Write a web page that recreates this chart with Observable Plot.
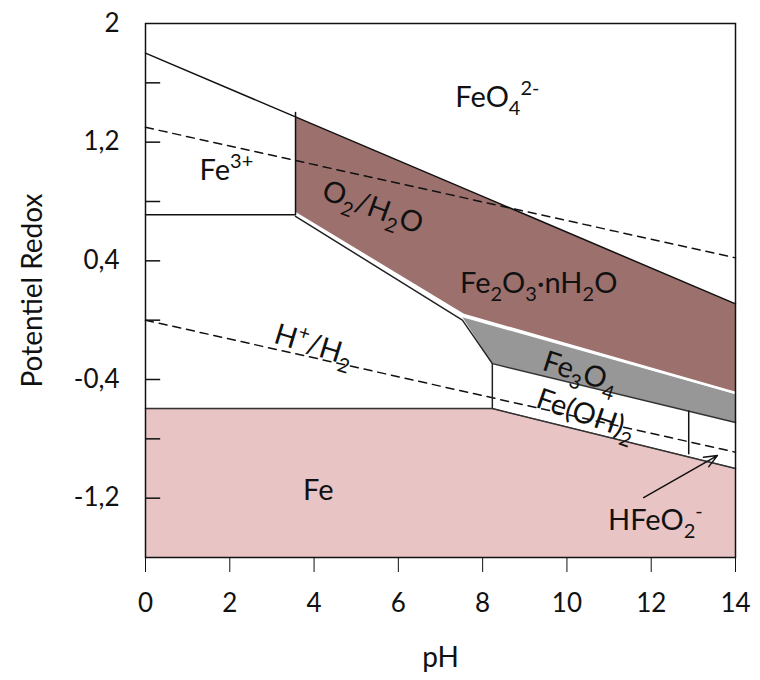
<!DOCTYPE html>
<html>
<head>
<meta charset="utf-8">
<script src="https://cdn.jsdelivr.net/npm/d3@7"></script>
<script src="https://cdn.jsdelivr.net/npm/@observablehq/plot@0.6"></script>
<style>
  html, body { margin: 0; padding: 0; background: #fff; }
</style>
</head>
<body>
<div id="chart"></div>
<script>
// ---- Axis ticks and titles ----
const phTicks = [0, 2, 4, 6, 8, 10, 12, 14];
const eLabelTicks = [2, 1.2, 0.4, -0.4, -1.2];
const eInnerTicks = [1.6, 1.2, 0.8, 0.4, 0, -0.4, -0.8, -1.2];
const xTitle = ["pH"];
const yTitle = ["Potentiel Redox"];

// ---- Region polygons [pH, E] ----
const oxideRegion = [[3.56, 1.37], [14, 0.11], [14, -0.49], [7.55, 0.035], [3.56, 0.72]];
const magnetiteRegion = [[7.52, 0.02], [14, -0.50], [14, -0.69], [8.23, -0.293]];
const ironRegion = [[0, -0.596], [8.23, -0.596], [14, -1.0], [14, -1.6], [0, -1.6]];

// ---- Boundary lines [pH, E] ----
const upperLine = [[0, 1.80], [14, 0.11]];
const fe3Box = [[0, 0.71], [3.56, 0.71], [3.56, 1.40]];
const oxideLowerWhite = [[3.56, 0.72], [7.55, 0.035], [14, -0.49]];
const hydroxideLeft = [[3.56, 0.70], [7.52, 0.0], [8.23, -0.293], [8.23, -0.596]];
const magnetiteBottom = [[8.23, -0.293], [14, -0.69]];
const ironTop = [[0, -0.596], [8.23, -0.596], [14, -1.0]];
const hfeoDivider = [[12.89, -0.613], [12.89, -0.90]];

// ---- Water stability lines (dashed) ----
const o2Line = [[0, 1.30], [14, 0.42]];
const h2Line = [[0, 0.0], [14, -0.89]];

// ---- Labels ----
const labelTexts = ["FeO_4^{2-}", "Fe^{3+}", "O_2/H_2O", "Fe_2O_3·nH_2O", "H^+/H_2", "Fe_3O_4", "Fe(OH)_2", "HFeO_2^-", "Fe"];
const labelPH =    [8.35, 1.92, 5.39, 9.33, 3.99, 10.32, 10.45, 12.1, 4.1];
const labelE =     [1.50, 1.01, 0.76, 0.247, -0.17, -0.353, -0.637, -1.35, -1.15];
const labelAngle = [0, 0, 20, 0, 17, 18, 19, 0, 0];

// ---- Arrow to HFeO2- ----
const arrowFrom = [11.82, -1.196];
const arrowTo = [13.57, -0.913];

// ---- Colours ----
const brown = "#9c706d";
const grey = "#979797";
const pink = "#e8c4c5";

const labels = labelTexts.map((t, i) => ({t, x: labelPH[i], y: labelE[i], r: labelAngle[i]}));
const px = d => d[0], py = d => d[1];
const comma = d => String(d).replace(".", ",");
const LABEL_FS = 29;

const chart = Plot.plot({
  width: 760,
  height: 680,
  marginLeft: 145,
  marginRight: 25,
  marginTop: 23,
  marginBottom: 123,
  style: {fontFamily: "Lato, 'Open Sans', sans-serif", fontSize: "26px", color: "#111", background: "#fff"},
  x: {domain: [0, 14], ticks: phTicks, tickSize: 15, tickPadding: 21, tickFormat: comma, label: null},
  y: {domain: [-1.6, 2], ticks: eLabelTicks, tickSize: 0, tickPadding: 26, tickFormat: comma, label: null},
  marks: [
    Plot.line(ironRegion, {x: px, y: py, fill: pink, stroke: "#555", strokeWidth: 1}),
    Plot.line(oxideRegion, {x: px, y: py, fill: brown, stroke: "none"}),
    Plot.line(magnetiteRegion, {x: px, y: py, fill: grey, stroke: "none"}),
    Plot.line(o2Line, {x: px, y: py, stroke: "#111", strokeWidth: 1.5, strokeDasharray: "8,6"}),
    Plot.line(h2Line, {x: px, y: py, stroke: "#111", strokeWidth: 1.5, strokeDasharray: "8,6"}),
    Plot.line(hydroxideLeft, {x: px, y: py, stroke: "#222", strokeWidth: 1.5}),
    Plot.line(oxideLowerWhite, {x: px, y: py, stroke: "#fff", strokeWidth: 2.5}),
    Plot.line(magnetiteBottom, {x: px, y: py, stroke: "#333", strokeWidth: 1.5}),
    Plot.line(ironTop, {x: px, y: py, stroke: "#333", strokeWidth: 1.5}),
    Plot.line(upperLine, {x: px, y: py, stroke: "#111", strokeWidth: 1.5}),
    Plot.line(fe3Box, {x: px, y: py, stroke: "#111", strokeWidth: 1.5}),
    Plot.line(hfeoDivider, {x: px, y: py, stroke: "#111", strokeWidth: 1.5}),
    Plot.arrow([{a: arrowFrom, b: arrowTo}], {x1: d => d.a[0], y1: d => d.a[1], x2: d => d.b[0], y2: d => d.b[1],
      stroke: "#111", strokeWidth: 1.5, headLength: 14, headAngle: 45}),
    Plot.ruleY(eInnerTicks, {x1: 0, x2: 0.36, stroke: "#111", strokeWidth: 1.5}),
    Plot.frame({stroke: "#111", strokeWidth: 1.5}),
    Plot.text(labels, {x: "x", y: "y", text: "t", rotate: "r", fontSize: LABEL_FS, fill: "#111"}),
    Plot.text(xTitle, {frameAnchor: "bottom", textAnchor: "middle", lineAnchor: "middle", dy: 101, text: d => d, fontSize: 28, fill: "#111"}),
    Plot.text(yTitle, {frameAnchor: "left", textAnchor: "middle", lineAnchor: "middle", dx: -112, rotate: -90, text: d => d, fontSize: 28, fill: "#111"})
  ]
});

// Rich text: subscripts and superscripts as tspans
function richify(el, fs) {
  const raw = el.textContent;
  if (!/[_^]/.test(raw)) return;
  const segs = [];
  let i = 0;
  while (i < raw.length) {
    const c = raw[i];
    if (c === "_" || c === "^") {
      let s;
      if (raw[i + 1] === "{") { const j = raw.indexOf("}", i); s = raw.slice(i + 2, j); i = j + 1; }
      else { s = raw[i + 1]; i += 2; }
      segs.push({t: s, mode: c === "_" ? "sub" : "sup"});
    } else {
      let j = i;
      while (j < raw.length && raw[j] !== "_" && raw[j] !== "^") j++;
      segs.push({t: raw.slice(i, j), mode: "base"});
      i = j;
    }
  }
  el.textContent = "";
  let cur = 0;
  const ns = "http://www.w3.org/2000/svg";
  for (const s of segs) {
    const target = s.mode === "sub" ? 0.28 * fs : s.mode === "sup" ? -0.4 * fs : 0;
    const ts = document.createElementNS(ns, "tspan");
    ts.setAttribute("dy", target - cur);
    ts.setAttribute("font-size", s.mode === "base" ? fs : Math.round(0.68 * fs));
    ts.textContent = s.t;
    el.appendChild(ts);
    cur = target;
  }
}
d3.select(chart).selectAll("text").each(function () { richify(this, LABEL_FS); });

document.getElementById("chart").appendChild(chart);
</script>
</body>
</html>
